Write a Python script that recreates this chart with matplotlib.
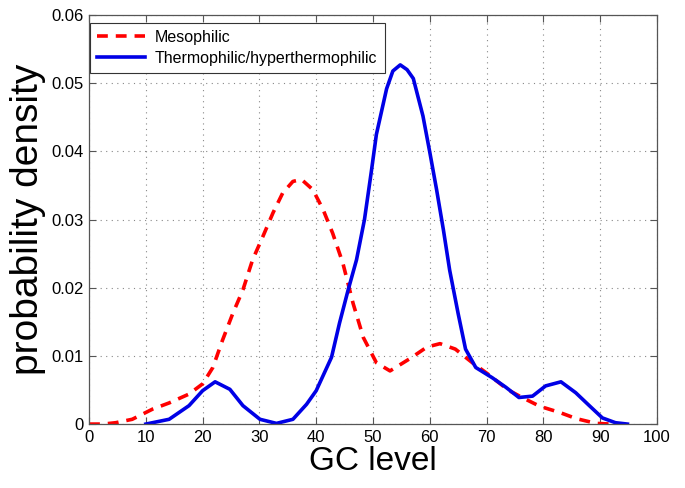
import numpy as np
import matplotlib
matplotlib.use("Agg")
import matplotlib.pyplot as plt

# GC level vs probability density
meso_x = [0, 2.5, 4.7, 7.6, 11.2, 14.1, 17.6, 20, 21.8, 23.5, 25.3, 27.1, 28.8,
          30.6, 32.4, 34.1, 35.9, 37.4, 39.4, 41.2, 42.9, 44.7, 46.5, 48.3, 50.6,
          53, 56.5, 59.5, 61.8, 64.5, 67.5, 70.3, 73.8, 76.5, 79.4, 82.9, 85.8,
          89.3, 92]
meso_y = [0.0, 0.0, 0.0002, 0.0007, 0.0022, 0.0031, 0.0044, 0.0059, 0.0083, 0.0123,
          0.0162, 0.0197, 0.0241, 0.0275, 0.031, 0.0339, 0.0356, 0.0359, 0.0344,
          0.0315, 0.028, 0.0236, 0.0177, 0.0127, 0.009, 0.0078, 0.0096, 0.0113,
          0.0118, 0.0110, 0.0090, 0.0073, 0.0050, 0.0038, 0.0026, 0.0017, 0.0008,
          0.0001, 0.0]

thermo_x = [10, 14.1, 17.6, 20, 22.2, 24.8, 27.1, 30.1, 33, 35.9, 38.3, 40, 42.7,
            44.1, 45.6, 47.1, 48.5, 49.7, 50.6, 52.4, 53.5, 54.8, 56, 57.1, 58.8,
            60, 61.2, 62.4, 63.5, 65, 66.3, 68.1, 71, 73.4, 75.7, 78.1, 80.4, 83.1,
            85.7, 88.1, 90.4, 92.7, 94.8]
thermo_y = [0.0, 0.0007, 0.0027, 0.0049, 0.0062, 0.0051, 0.0027, 0.0007, 0.0001,
            0.0007, 0.0029, 0.0049, 0.0098, 0.0148, 0.0196, 0.0241, 0.030, 0.037,
            0.0425, 0.0492, 0.0518, 0.0527, 0.0520, 0.0507, 0.0452, 0.0399, 0.0344,
            0.0285, 0.0226, 0.0162, 0.0110, 0.0083, 0.0068, 0.0054, 0.0039, 0.0041,
            0.0056, 0.0062, 0.0046, 0.0027, 0.0009, 0.0002, 0.0]

plt.rcParams['font.family'] = ['Liberation Sans', 'DejaVu Sans']

fig = plt.figure(figsize=(6.85, 4.88), dpi=100)
ax = fig.add_axes([0.130, 0.131, 0.829, 0.838])

ax.plot(meso_x, meso_y, color='#ff0000', lw=2.6, ls=(0, (3, 2.2)),
        solid_joinstyle='round', dash_joinstyle='round', label='Mesophilic')
ax.plot(thermo_x, thermo_y, color='#0000e6', lw=2.6, solid_joinstyle='round',
        label='Thermophilic/hyperthermophilic')

ax.set_xlim(0, 100)
ax.set_ylim(0, 0.06)
ax.set_xticks(np.arange(0, 101, 10))
ax.set_yticks(np.arange(0, 0.061, 0.01))
ax.set_yticklabels(['0', '0.01', '0.02', '0.03', '0.04', '0.05', '0.06'])
ax.grid(True, ls=(0, (1, 4)), color='#888888', lw=0.8)
ax.tick_params(direction='in', top=True, right=True, labelsize=12, length=5,
               color='#555555', pad=4)
for s in ax.spines.values():
    s.set_color('#555555')
    s.set_linewidth(0.9)

ax.set_xlabel('GC level', fontsize=24, labelpad=1)
ax.set_ylabel('probability density', fontsize=28, labelpad=4)

leg = ax.legend(loc='upper left', bbox_to_anchor=(0.002, 0.981), borderaxespad=0,
                fontsize=11.5, fancybox=False, framealpha=1, edgecolor='#333333',
                handlelength=3.0, borderpad=0.45, labelspacing=0.35,
                handletextpad=0.6)
leg.get_frame().set_linewidth(0.8)

fig.savefig('out.png', dpi=100)
